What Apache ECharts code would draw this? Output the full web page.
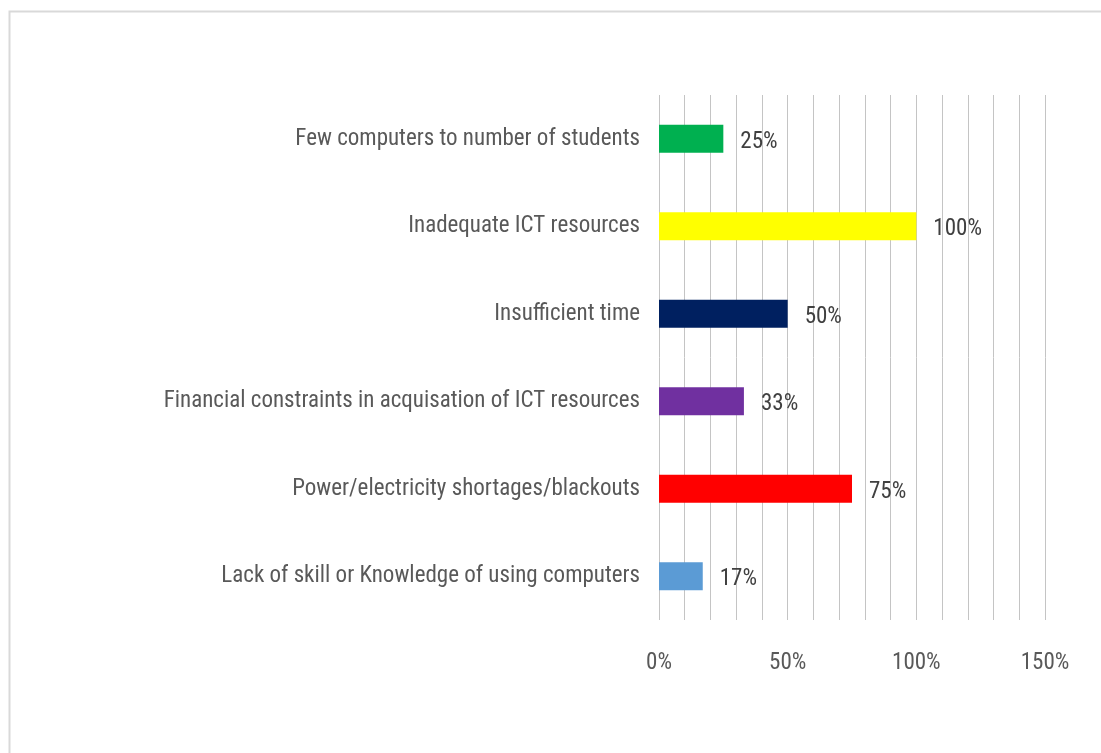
<!DOCTYPE html>
<html>
<head>
<meta charset="utf-8">
<script src="https://cdn.jsdelivr.net/npm/echarts@6/dist/echarts.min.js"></script>
<style>
  html, body { margin: 0; padding: 0; background: #fff; }
  #chart { width: 1101px; height: 753px; }
</style>
</head>
<body>
<div id="chart"></div>
<script>
// Barriers to ICT use, share of respondents (%), listed top to bottom
const categories = [
  'Few computers to number of students',
  'Inadequate ICT resources',
  'Insufficient time',
  'Financial constraints in acquisation of ICT resources',
  'Power/electricity shortages/blackouts',
  'Lack of skill or Knowledge of using computers'
];
const values = [25, 100, 50, 33, 75, 17];
const barColors = ['#00b050', '#ffff00', '#002060', '#7030a0', '#ff0000', '#5b9bd5'];
const tickLabels = [0, 50, 100, 150];

const fontFamily = '"Roboto Condensed", sans-serif';
const textColor = '#595959';

const chart = echarts.init(document.getElementById('chart'), null, { renderer: 'canvas' });
chart.setOption({
  animation: false,
  backgroundColor: '#ffffff',
  graphic: [{
    type: 'rect',
    left: 7, top: 9,
    shape: { width: 1300, height: 900 },
    style: { fill: 'none', stroke: '#d9d9d9', lineWidth: 2 },
    silent: true
  }],
  grid: { left: 659, right: 56, top: 95, bottom: 133, containLabel: false },
  xAxis: {
    type: 'value',
    min: 0, max: 150, interval: 10,
    axisLine: { show: false },
    axisTick: { show: false },
    splitLine: { show: true, lineStyle: { color: '#c4c4c4', width: 1 } },
    axisLabel: {
      margin: 32,
      color: textColor,
      fontFamily: fontFamily,
      fontSize: 23,
      formatter: v => tickLabels.includes(v) ? v + '%' : ''
    }
  },
  yAxis: {
    type: 'category',
    inverse: true,
    data: categories,
    axisLine: { show: false },
    axisTick: { show: false },
    axisLabel: { margin: 19, color: textColor, fontFamily: fontFamily, fontSize: 23, padding: [3, 0, 0, 0] }
  },
  series: [{
    type: 'bar',
    barWidth: 28,
    data: values.map((v, i) => ({ value: v, itemStyle: { color: barColors[i] } })),
    label: {
      show: true,
      position: 'right',
      distance: 17,
      offset: [0, 3],
      color: '#404040',
      fontFamily: fontFamily,
      fontSize: 23,
      formatter: p => p.value + '%'
    }
  }]
});
</script>
</body>
</html>
